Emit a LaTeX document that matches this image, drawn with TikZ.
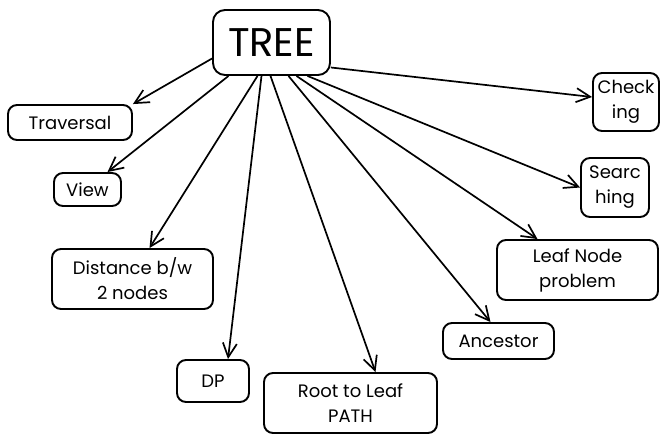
\documentclass[tikz,border=0pt]{standalone}
\usepackage{fontspec}
\setmainfont{Poppins}
\usetikzlibrary{arrows.meta,calc}
\begin{document}
\begin{tikzpicture}[x=1pt,y=-1pt,
  box/.style={draw=black,line width=1.9pt,rounded corners=9pt,inner sep=0pt,align=center,font=\fontsize{18}{25}\selectfont},
  arr/.style={line width=1.7pt,-{Straight Barb[length=14pt,width=14pt]}}]
\useasboundingbox (0,0) rectangle (669,442);
\node[box,minimum width=117pt,minimum height=65pt,rounded corners=12pt,font=\fontsize{40}{44}\selectfont] (tree) at (271.5,42.5) {TREE};
\node[box,minimum width=124pt,minimum height=35pt] (trav) at (70,122.5) {Traversal};
\node[box,minimum width=67pt,minimum height=33pt] (view) at (87.5,189.5) {View};
\node[box,minimum width=161pt,minimum height=60pt] (dist) at (132.5,279) {Distance b/w\\2 nodes};
\node[box,minimum width=72pt,minimum height=42pt] (dp) at (213,381) {DP};
\node[box,minimum width=173pt,minimum height=60pt] (root) at (350.5,403) {Root to Leaf\\PATH};
\node[box,minimum width=111pt,minimum height=36pt] (anc) at (498.5,341) {Ancestor};
\node[box,minimum width=161pt,minimum height=60pt] (leaf) at (577.5,270) {Leaf Node\\problem};
\node[box,minimum width=68pt,minimum height=59pt] (search) at (615,187.5) {Searc\\hing};
\node[box,minimum width=66pt,minimum height=58pt] (check) at (626,102) {Check\\ing};
\draw[arr] ([yshift=-16pt]tree.west) -- (trav.north east);
\draw[arr] ([xshift=-43pt]tree.south) -- ([xshift=20pt]view.north);
\draw[arr] ([xshift=-14pt]tree.south) -- ([xshift=17pt]dist.north);
\draw[arr] ([xshift=-10pt]tree.south) -- ([xshift=15pt]dp.north);
\draw[arr] ([xshift=-1pt]tree.south) -- ([xshift=25pt]root.north);
\draw[arr] ([xshift=17pt]tree.south) -- ([xshift=-8pt]anc.north);
\draw[arr] ([xshift=25pt]tree.south) -- ([xshift=-40pt]leaf.north);
\draw[arr] ([xshift=36pt]tree.south) -- (search.west);
\draw[arr] ([yshift=-25pt]tree.east) -- ([yshift=5pt]check.west);
\end{tikzpicture}
\end{document}
